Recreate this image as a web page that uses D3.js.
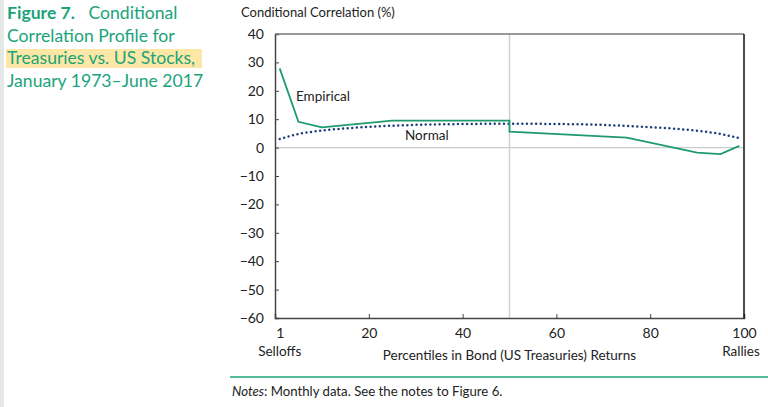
<!DOCTYPE html>
<html><head><meta charset="utf-8">
<script src="https://cdn.jsdelivr.net/npm/d3@7"></script>
<style>
body{margin:0;background:#fff;font-family:Lato,"Open Sans",sans-serif;}
svg text{font-family:Lato,"Open Sans",sans-serif;}
</style></head>
<body><svg id="c" width="768" height="407"></svg>
<script>
const empiricalX = [1, 5, 10, 25, 50, 50, 75, 90, 95, 99];
const empiricalY = [27.9, 9.1, 7.1, 9.5, 9.5, 5.6, 3.5, -1.8, -2.3, 0.6];
const normalX = [1, 5, 10, 20, 30, 40, 50, 60, 70, 75, 80, 90, 95, 99];
const normalY = [3.0, 4.8, 6.0, 7.3, 8.0, 8.3, 8.4, 8.3, 8.0, 7.6, 7.2, 5.9, 4.8, 3.3];
const xTicks = [1, 20, 40, 60, 80, 100];
const yTicks = [40, 30, 20, 10, 0, -10, -20, -30, -40, -50, -60];

const svg = d3.select("#c");
const L = 275, R = 744, T = 34, B = 318;
const x = d3.scaleLinear().domain([0, 100]).range([L, R]);
const y = d3.scaleLinear().domain([-60, 40]).range([B, T]);
const green = "#1f9a6f", teal = "#1aa37a";

// left strip
svg.append("rect").attr("x",0).attr("y",0).attr("width",4).attr("height",407).attr("fill","#e4e8e6");

// title
svg.append("rect").attr("x",6).attr("y",49).attr("width",196).attr("height",19).attr("fill","#fde7a6");
const tl = [["Figure 7.", "   Conditional"], ["", "Correlation Profile for"], ["", "Treasuries vs. US Stocks,"], ["", "January 1973\u2013June 2017"]];
tl.forEach((l, i) => {
  const t = svg.append("text").attr("x",7).attr("y",19 + i*22.6).attr("font-size",17.6).attr("fill",teal);
  if (l[0]) t.append("tspan").attr("font-weight","bold").text(l[0]);
  t.append("tspan").attr("xml:space","preserve").style("white-space","pre").text(l[1]);
});

// y axis title
svg.append("text").attr("x",241).attr("y",17).attr("font-size",13).attr("fill","#222").text("Conditional Correlation (%)");

// zero line and mid line
svg.append("line").attr("x1",L).attr("x2",R).attr("y1",y(0)).attr("y2",y(0)).attr("stroke","#ccc").attr("stroke-width",1.2);
svg.append("line").attr("x1",x(50)).attr("x2",x(50)).attr("y1",T).attr("y2",B).attr("stroke","#d0d0d0").attr("stroke-width",1.5);

// axes
const ya = d3.axisLeft(y).tickValues(yTicks).tickSize(-4).tickPadding(11).tickFormat(d => d < 0 ? "\u2212" + Math.abs(d) : d);
const gy = svg.append("g").attr("transform",`translate(${L},0)`).call(ya);
gy.select(".domain").attr("stroke","#444").attr("stroke-width",1.5);
gy.selectAll(".tick line").attr("stroke","#444");
gy.selectAll("text").attr("font-size",14).attr("fill","#222");

const xa = d3.axisBottom(x).tickValues(xTicks).tickSize(-4).tickPadding(10).tickFormat(d3.format("d"));
const gx = svg.append("g").attr("transform",`translate(0,${B})`).call(xa);
gx.select(".domain").attr("stroke","#444").attr("stroke-width",1.5);
gx.selectAll(".tick line").attr("stroke","#444").filter(d => d === 1 || d === 100).remove();
gx.selectAll("text").attr("font-size",14).attr("fill","#222");

// top & right border
svg.append("line").attr("x1",L).attr("x2",R).attr("y1",T).attr("y2",T).attr("stroke","#777").attr("stroke-width",1.5);
svg.append("line").attr("x1",R).attr("x2",R).attr("y1",T).attr("y2",B).attr("stroke","#111").attr("stroke-width",1.5);

// lines
const pts = (xs, ys) => xs.map((v, i) => [v, ys[i]]);
const line = d3.line().x(d => x(d[0])).y(d => y(d[1]));
svg.append("path").datum(pts(normalX, normalY)).attr("d", d3.line().curve(d3.curveMonotoneX).x(d => x(d[0])).y(d => y(d[1])))
  .attr("fill","none").attr("stroke","#1f3f7a").attr("stroke-width",2.5).attr("stroke-linecap","round").attr("stroke-dasharray","0 4.6");
svg.append("path").datum(pts(empiricalX, empiricalY)).attr("d", line)
  .attr("fill","none").attr("stroke",green).attr("stroke-width",1.8);

// labels
svg.append("text").attr("x",296).attr("y",101).attr("font-size",13.5).attr("fill","#222").text("Empirical");
svg.append("text").attr("x",405).attr("y",140).attr("font-size",13.5).attr("fill","#222").text("Normal");

svg.append("text").attr("x",x(1)).attr("y",356).attr("text-anchor","middle").attr("font-size",13.5).attr("fill","#222").text("Selloffs");
svg.append("text").attr("x",x(100)-3).attr("y",356).attr("text-anchor","middle").attr("font-size",13.5).attr("fill","#222").text("Rallies");
svg.append("text").attr("x",x(50)).attr("y",360).attr("text-anchor","middle").attr("font-size",13.5).attr("fill","#222").text("Percentiles in Bond (US Treasuries) Returns");

// rule & notes
svg.append("line").attr("x1",230).attr("x2",768).attr("y1",377).attr("y2",377).attr("stroke",teal).attr("stroke-width",1.5);
const n = svg.append("text").attr("x",232).attr("y",396).attr("font-size",13.2).attr("fill","#222");
n.append("tspan").attr("font-style","italic").text("Notes");
n.append("tspan").text(": Monthly data. See the notes to Figure 6.");
</script></body></html>
